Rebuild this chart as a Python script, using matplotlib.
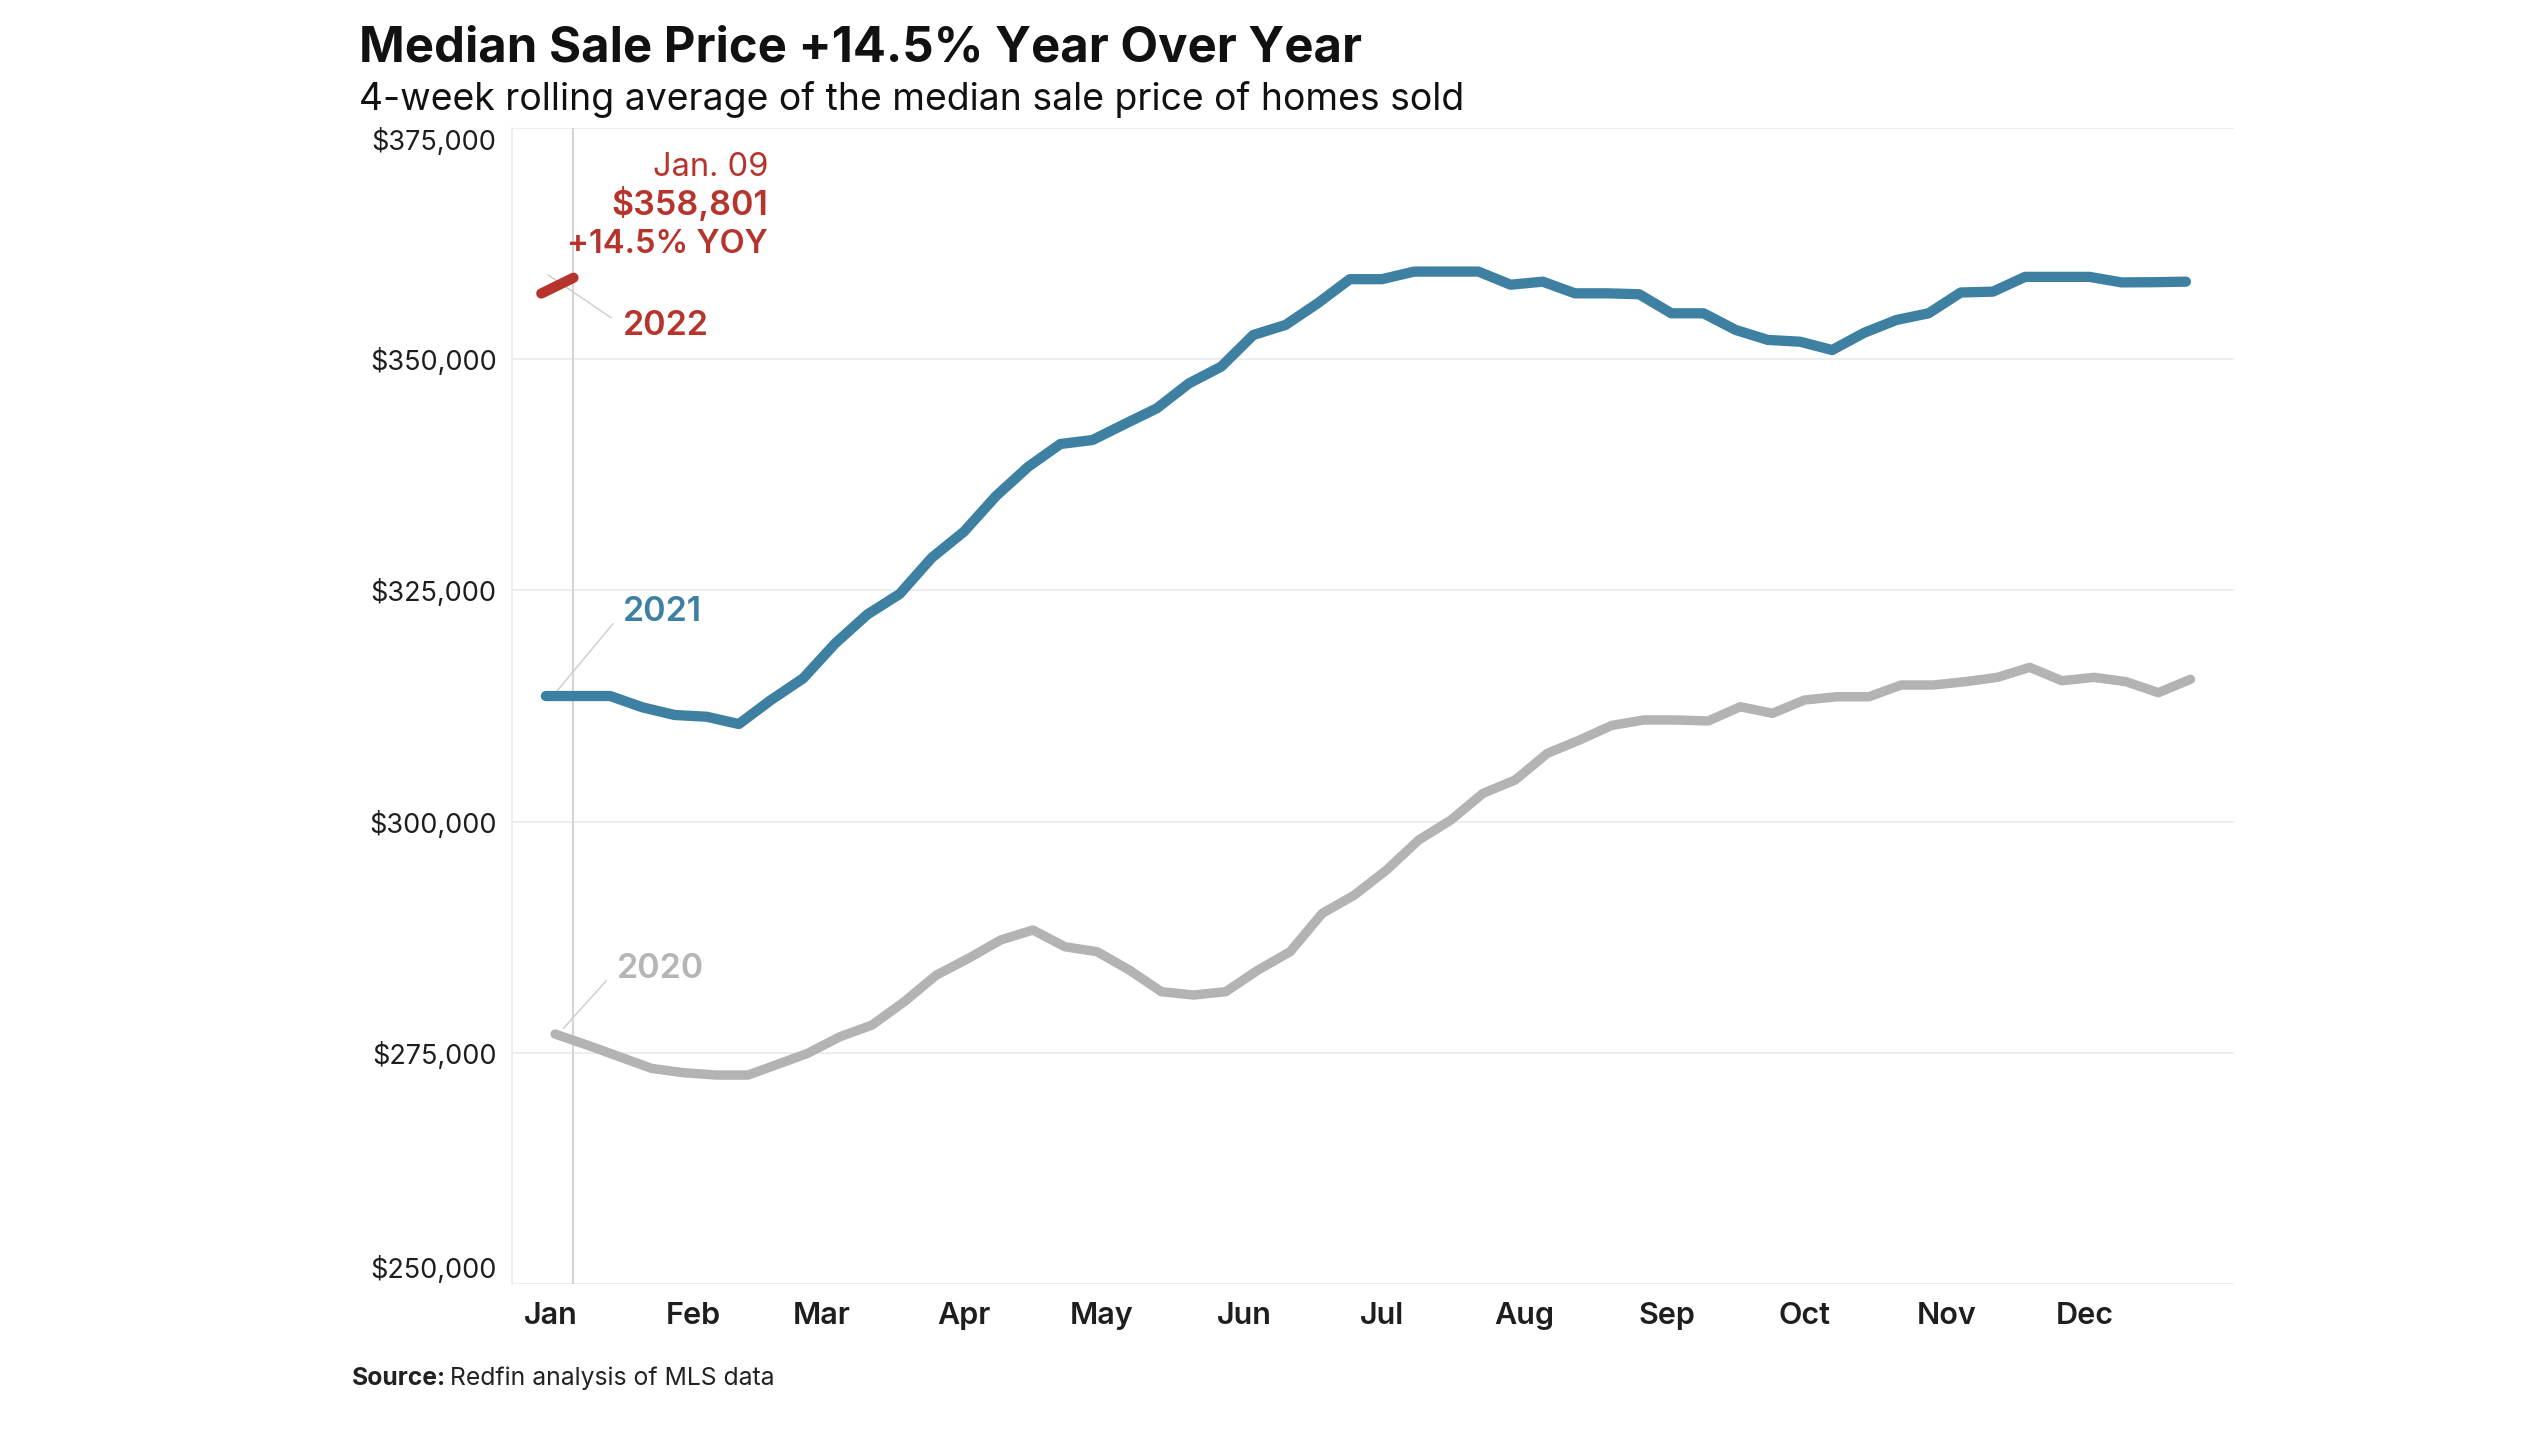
import numpy as np
import pandas as pd
import matplotlib
matplotlib.use("Agg")
import matplotlib.pyplot as plt

plt.rcParams['font.family'] = ['Inter', 'DejaVu Sans']

# 4-week rolling median sale price, weeks ending on Sunday
weeks_2020 = pd.date_range("2020-01-05", periods=52, freq="7D")
weeks_2021 = pd.date_range("2021-01-03", periods=52, freq="7D")
weeks_2022 = pd.date_range("2022-01-02", periods=2, freq="7D")

price_2020 = [277030, 275840, 274580, 273320, 272850, 272600, 272600, 273860, 274950, 276740,
              278010, 280525, 283410, 285220, 287200, 288280, 286470, 285930, 283950, 281610,
              281250, 281610, 283950, 285930, 290080, 292060, 294770, 298010, 300170, 303060,
              304500, 307380, 308820, 310400, 310990, 310990, 310880, 312420, 311710, 313150,
              313500, 313500, 314770, 314770, 315130, 315600, 316680, 315235, 315600, 315130,
              313940, 315390]
price_2021 = [313580, 313580, 313580, 312360, 311530, 311340, 310550, 313150, 315490, 319280,
              322410, 324610, 328530, 331350, 335210, 338370, 340830, 341260, 342990, 344690,
              347390, 349190, 352620, 353700, 356040, 358650, 358650, 359470, 359470, 359470,
              358050, 358380, 357120, 357120, 357020, 354960, 354960, 353160, 352080, 351890,
              350990, 352860, 354240, 354960, 357210, 357300, 358900, 358900, 358900, 358300,
              358320, 358380]
price_2022 = [357100, 358801]

month_labels = ["Jan", "Feb", "Mar", "Apr", "May", "Jun",
                "Jul", "Aug", "Sep", "Oct", "Nov", "Dec"]
y_ticks = [250000, 275000, 300000, 325000, 350000, 375000]

blue = "#3e80a1"
grey = "#b3b3b3"
red = "#b7342d"
label_grey = "#b5b5b5"


def day_of_year(dates):
    # every year on the same Jan-Dec axis, days since Jan 1
    return np.array([(d.replace(year=2021) - pd.Timestamp("2021-01-01")).days for d in dates])


x20 = day_of_year(weeks_2020)
x21 = day_of_year(weeks_2021)
x22 = day_of_year(weeks_2022)
month_x = day_of_year(pd.date_range("2021-01-01", periods=12, freq="MS")) + 3

fig = plt.figure(figsize=(25.33, 14.36), dpi=100)
ax = fig.add_axes([0.2021, 0.1058, 0.882 - 0.2021, 0.9109 - 0.1058])

ax.axvline(x22[-1], color="#d6d6d6", lw=1.6, zorder=1)
ax.plot(x20, price_2020, color=grey, lw=6.8, solid_capstyle="round", zorder=3)
ax.plot(x21, price_2021, color=blue, lw=7.4, solid_capstyle="round", zorder=4)
ax.plot(x22, price_2022, color=red, lw=7.4, solid_capstyle="round", zorder=5)

ax.set_xlim(-5.4, 369.5)
ax.set_ylim(250000, 375000)
ax.set_yticks(y_ticks)
ax.set_yticklabels(["${:,}".format(v) for v in y_ticks])
ax.set_xticks(month_x)
ax.set_xticklabels(month_labels)

ax.grid(axis="y", color="#ececec", lw=1.3)
ax.set_axisbelow(True)
for s in ["top", "right", "bottom"]:
    ax.spines[s].set_visible(False)
ax.spines["left"].set_color("#ececec")
ax.spines["left"].set_linewidth(1.3)

ax.tick_params(axis="y", length=0, pad=11, labelsize=19.5, labelcolor="#1e1e1e")
ax.tick_params(axis="x", length=0, pad=13, labelsize=22, labelcolor="#1e1e1e")
for lab in ax.get_xticklabels():
    lab.set_fontweight("semibold")
ylabs = ax.get_yticklabels()
ylabs[0].set_va("bottom")
ylabs[-1].set_va("top")

# series labels with leader lines
lead = dict(arrowstyle="-", color="#cfcfcf", lw=1.1, relpos=(0, 0.5), shrinkA=8, shrinkB=0)
ax.annotate("2022", xy=(2.5, 359100), xytext=(18.8, 352620), color=red, fontsize=24.5,
            fontweight="semibold", va="baseline", ha="left", arrowprops=lead)
ax.annotate("2021", xy=(4.0, 313870), xytext=(18.8, 321720), color=blue, fontsize=24.5,
            fontweight="semibold", va="baseline", ha="left", arrowprops=lead)
ax.annotate("2020", xy=(5.8, 277650), xytext=(17.4, 283060), color=label_grey, fontsize=24.5,
            fontweight="semibold", va="baseline", ha="left", arrowprops=lead)

# latest value callout
ax.text(50.4, 369780, "Jan. 09", color=red, fontsize=23.5, ha="right", va="baseline")
ax.text(50.4, 365590, "${:,}".format(price_2022[-1]), color=red, fontsize=24.5,
        fontweight="semibold", ha="right", va="baseline")
ax.text(50.4, 361450, "+14.5% YOY", color=red, fontsize=23.5,
        fontweight="semibold", ha="right", va="baseline")

fig.text(0.1417, 0.957, "Median Sale Price +14.5% Year Over Year", fontsize=35.3,
         fontweight="bold", color="#111111", ha="left", va="baseline")
fig.text(0.1417, 0.9235, "4-week rolling average of the median sale price of homes sold",
         fontsize=26.9, color="#111111", ha="left", va="baseline")

src = fig.text(0.139, 0.0355, "Source:", fontsize=17.8, fontweight="bold", color="#222222",
               ha="left", va="baseline")
fig.canvas.draw()
bb = src.get_window_extent()
fig.text(bb.x1 / fig.bbox.width + 0.0015, 0.0355, "Redfin analysis of MLS data", fontsize=17.8,
         color="#222222", ha="left", va="baseline")

fig.savefig("out.png", dpi=100, facecolor="white")
